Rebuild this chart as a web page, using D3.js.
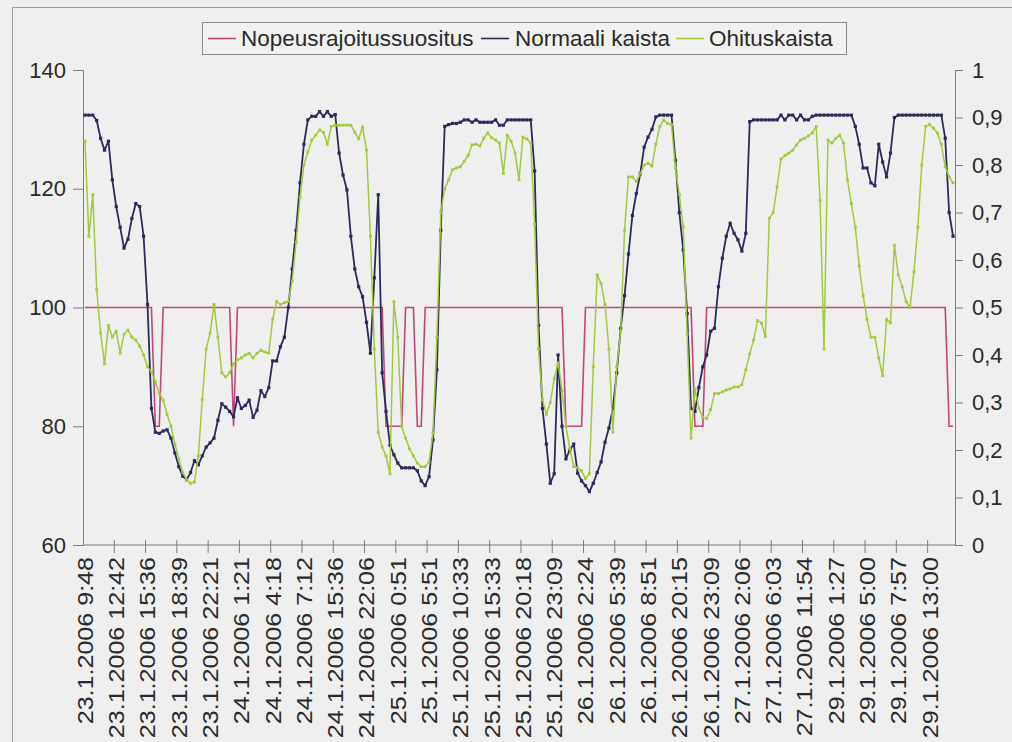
<!DOCTYPE html>
<html>
<head>
<meta charset="utf-8">
<script src="https://cdn.jsdelivr.net/npm/d3@7"></script>
<style>
  html, body { margin: 0; padding: 0; background: #efefef; }
  svg { display: block; font-family: "Liberation Sans", Arial, sans-serif; }
</style>
</head>
<body>
<svg id="chart" width="1012" height="742"></svg>
<script>
// Category labels, one for every 8th measurement
const tickLabels = [
  "23.1.2006 9:48", "23.1.2006 12:42", "23.1.2006 15:36", "23.1.2006 18:39",
  "23.1.2006 22:21", "24.1.2006 1:21", "24.1.2006 4:18", "24.1.2006 7:12",
  "24.1.2006 15:36", "24.1.2006 22:06", "25.1.2006 0:51", "25.1.2006 5:51",
  "25.1.2006 10:33", "25.1.2006 15:33", "25.1.2006 20:18", "25.1.2006 23:09",
  "26.1.2006 2:24", "26.1.2006 5:39", "26.1.2006 8:51", "26.1.2006 20:15",
  "26.1.2006 23:09", "27.1.2006 2:06", "27.1.2006 6:03", "27.1.2006 11:54",
  "29.1.2006 1:27", "29.1.2006 5:00", "29.1.2006 7:57", "29.1.2006 13:00"
];
const labelEvery = 8;

const seriesNames = ["Nopeusrajoitussuositus", "Normaali kaista", "Ohituskaista"];

// Recommended speed limit (km/h)
const speedLimit = [
  100,100,100,100,100,100,100,100,100,100,
  100,100,100,100,100,100,100,100,80,80,
  100,100,100,100,100,100,100,100,100,100,
  100,100,100,100,100,100,100,100,80,100,
  100,100,100,100,100,100,100,100,100,100,
  100,100,100,100,100,100,100,100,100,100,
  100,100,100,100,100,100,100,100,100,100,
  100,100,100,100,100,100,100,80,80,80,
  80,80,100,100,100,80,80,100,100,100,
  100,100,100,100,100,100,100,100,100,100,
  100,100,100,100,100,100,100,100,100,100,
  100,100,100,100,100,100,100,100,100,100,
  100,100,100,80,80,80,80,80,100,100,
  100,100,100,100,100,100,100,100,100,100,
  100,100,100,100,100,100,100,100,100,100,
  100,100,100,100,100,100,80,80,80,100,
  100,100,100,100,100,100,100,100,100,100,
  100,100,100,100,100,100,100,100,100,100,
  100,100,100,100,100,100,100,100,100,100,
  100,100,100,100,100,100,100,100,100,100,
  100,100,100,100,100,100,100,100,100,100,
  100,100,100,100,100,100,100,100,100,100,
  100,80,80
];

// Mean speed, normal lane (km/h)
const normalLane = [
  132.4,132.4,132.4,131.5,128.5,126.5,128,121.5,117,113.5,
  110,111.5,115,117.5,117,112,100.5,83,79,78.8,
  79.2,79.4,78,75.5,73.2,71.6,71,72.2,74.2,73.5,
  75,76.5,77.2,78,81,83.8,83.2,82.5,81.6,84.8,
  83,83.5,84.4,81.5,82.7,86,85,86.5,91,91,
  93.4,95,100,106.5,113,121,127.5,131.6,132.2,132.2,
  133,132.2,133,132.2,132.5,126,122.3,119.8,112,106.5,
  103.5,101.8,97.5,92.3,105,119,89,82.5,76.8,75.2,
  73.8,73,73,73,73,72.5,70.8,70,71.5,77.7,
  89.5,113,130.5,130.8,131,131,131.2,131.6,131.6,131.2,
  131.6,131.2,131.2,131.2,131.2,131.6,130.7,130.7,131.6,131.6,
  131.6,131.6,131.6,131.6,131.6,123,97,83,77,70.4,
  72,92,80,74.5,76,77,72.1,70.8,70,69,
  70.4,72.2,74,77.3,79.7,83,89,96.5,102,109,
  115.5,119.2,122.5,127,128.7,130,132.1,132.4,132.4,132.4,
  132.4,124.8,116,109.7,99,83,82.5,86.5,90,92,
  96,96.5,103.5,108.3,112,114.2,112.5,111.4,109.5,112.5,
  131.3,131.6,131.6,131.6,131.6,131.6,131.6,131.6,132.4,131.6,
  132.4,132.4,131.6,132.4,131.6,131.6,132.2,132.4,132.4,132.4,
  132.4,132.4,132.4,132.4,132.4,132.4,132.4,130.5,127.5,123.5,
  123.5,121,120.5,127.5,124.5,122,126,132,132.4,132.4,
  132.4,132.4,132.4,132.4,132.4,132.4,132.4,132.4,132.4,132.4,
  128.5,116,112
];

// Mean speed, passing lane (km/h)
const passingLane = [
  128,112,119,103,95.7,90.5,97,95,96,92.3,
  95.5,96.2,95,94.5,93.5,92,90,89.2,87.5,85.5,
  84.4,82,80,77,74.5,72.2,71,70.4,70.6,75,
  84.5,93,95.7,100.5,95,89,88.3,89,90.5,91.2,
  91.5,92,92.3,91.5,92.3,92.8,92.5,92.3,98,101,
  100.5,100.8,101,104.5,111,118.6,124,126.2,128.2,129,
  129.9,129.5,127.5,130.5,130.7,130.7,130.7,130.7,130.7,129.5,
  128.4,130.4,126.5,112,93,79,76.5,75,72,101,
  95,80,78,76.2,75,73.8,73.2,73.2,74,78.8,
  95,116,120,121.5,123.2,123.5,123.7,124.6,125.6,127.4,
  127.5,127.2,128.5,129.4,128.6,128.2,127.7,122.6,129,128,
  126,121.5,128.7,128.4,127.7,114,93,84.5,82,84,
  88,90.7,86,80,76.2,73.2,73,72.5,71.2,72,
  90,105.5,104,100.5,93,79,90,96,113,122,
  122,121.2,122.5,124,124.3,123.8,127.5,130.5,131.6,131,
  130.8,123.5,119,113.6,95.5,78,86.3,83,81.5,81.3,
  82.8,85.5,85.5,85.8,86.1,86.3,86.6,86.6,87,89.5,
  92.2,94.5,97.8,97.4,95.1,115,116,120.3,125,125.6,
  126,126.5,127.4,128.2,128.5,128.9,129.4,130.5,118,93,
  128.2,127.7,128.5,129,127.7,121.5,117.5,113.5,107,102,
  98,95,95,91.5,88.5,98,97.4,110.5,105.5,103.5,
  101,100,106,113.5,124,130.5,130.8,130.2,129.4,127.5,
  123.7,122,121
];

const leftTicks = [60, 80, 100, 120, 140];
const rightTicks = [0, 0.1, 0.2, 0.3, 0.4, 0.5, 0.6, 0.7, 0.8, 0.9, 1];

const colors = { limit: "#c4457a", normal: "#2b2a5c", passing: "#9fcb3a" };

const W = 1012, H = 742;
const plot = { left: 83, right: 955, top: 70, bottom: 545 };

const svg = d3.select("#chart");
svg.append("rect").attr("width", W).attr("height", H).attr("fill", "#efefef");

// outer chart frame
svg.append("rect")
  .attr("x", 12.5).attr("y", 7.5).attr("width", 1030).attr("height", 760)
  .attr("fill", "none").attr("stroke", "#9c9c9c").attr("stroke-width", 1);

const n = normalLane.length;
const x = d3.scaleBand().domain(d3.range(n)).range([plot.left, plot.right]).padding(0);
const cx = i => x(i) + x.bandwidth() / 2;
const y = d3.scaleLinear().domain([60, 140]).range([plot.bottom, plot.top]);
const y2 = d3.scaleLinear().domain([0, 1]).range([plot.bottom, plot.top]);

const axisColor = "#7d7d7d";
const textColor = "#2a2a2a";

// left axis
const gL = svg.append("g").attr("transform", `translate(${plot.left},0)`)
  .call(d3.axisLeft(y).tickValues(leftTicks).tickSize(10).tickPadding(7));
gL.selectAll("text").style("font-size", "22px").attr("fill", textColor);

// right axis
const fmtComma = d => d === 0 ? "0" : d === 1 ? "1" : d.toFixed(1).replace(".", ",");
const gR = svg.append("g").attr("transform", `translate(${plot.right},0)`)
  .call(d3.axisRight(y2).tickValues(rightTicks).tickSize(8).tickPadding(9).tickFormat(fmtComma));
gR.selectAll("text").style("font-size", "22px").attr("fill", textColor);

// bottom axis: labels centred on every 8th category, written top-down
const labelStretch = 1.14;
const labelIdx = tickLabels.map((_, j) => j * labelEvery);
const gB = svg.append("g").attr("transform", `translate(0,${plot.bottom})`)
  .call(d3.axisBottom(x).tickValues(labelIdx).tickSize(0).tickFormat((d, j) => tickLabels[j]));
gB.select(".domain").remove();
gB.selectAll("text")
  .attr("transform", `rotate(-90) scale(${labelStretch},1)`)
  .attr("x", -12 / labelStretch).attr("y", 0).attr("dy", "0.36em")
  .style("text-anchor", "end").style("font-size", "22px").attr("fill", textColor);

// tick marks between label groups, crossing the axis line
const boundaryIdx = d3.range(labelEvery, n, labelEvery);
svg.append("g").selectAll("line").data(boundaryIdx).join("line")
  .attr("x1", d => x(d)).attr("x2", d => x(d))
  .attr("y1", plot.bottom - 5).attr("y2", plot.bottom + 8)
  .attr("stroke", axisColor);

svg.append("line").attr("x1", plot.left).attr("x2", plot.right)
  .attr("y1", plot.bottom).attr("y2", plot.bottom).attr("stroke", axisColor);

svg.selectAll(".domain, .tick line").attr("stroke", axisColor);

// series
const line = d3.line().x((d, i) => cx(i)).y(d => y(d));

svg.append("path").datum(speedLimit)
  .attr("d", line).attr("fill", "none")
  .attr("stroke", colors.limit).attr("stroke-width", 1.6);

function drawSeries(values, color, width, marker) {
  svg.append("path").datum(values)
    .attr("d", line).attr("fill", "none")
    .attr("stroke", color).attr("stroke-width", width)
    .attr("stroke-linejoin", "round");
  svg.append("g").selectAll("rect").data(values).join("rect")
    .attr("x", (d, i) => cx(i) - marker / 2)
    .attr("y", d => y(d) - marker / 2)
    .attr("width", marker).attr("height", marker)
    .attr("fill", color);
}
drawSeries(normalLane, colors.normal, 1.8, 3.2);
drawSeries(passingLane, colors.passing, 1.5, 2.8);

// legend
const lg = svg.append("g");
lg.append("rect").attr("x", 202.5).attr("y", 22.5).attr("width", 644).attr("height", 32)
  .attr("fill", "#f1f1f1").attr("stroke", "#8a8a8a");
const legendItems = [
  { name: seriesNames[0], color: colors.limit, x0: 208, tx: 241 },
  { name: seriesNames[1], color: colors.normal, x0: 481, tx: 515 },
  { name: seriesNames[2], color: colors.passing, x0: 676, tx: 709 }
];
legendItems.forEach(it => {
  lg.append("line").attr("x1", it.x0).attr("x2", it.x0 + 28)
    .attr("y1", 38.5).attr("y2", 38.5).attr("stroke", it.color).attr("stroke-width", 1.6);
  lg.append("text").attr("x", it.tx).attr("y", 38.5).attr("dy", "0.35em")
    .style("font-size", "22.5px").attr("fill", textColor).text(it.name);
});
</script>
</body>
</html>
